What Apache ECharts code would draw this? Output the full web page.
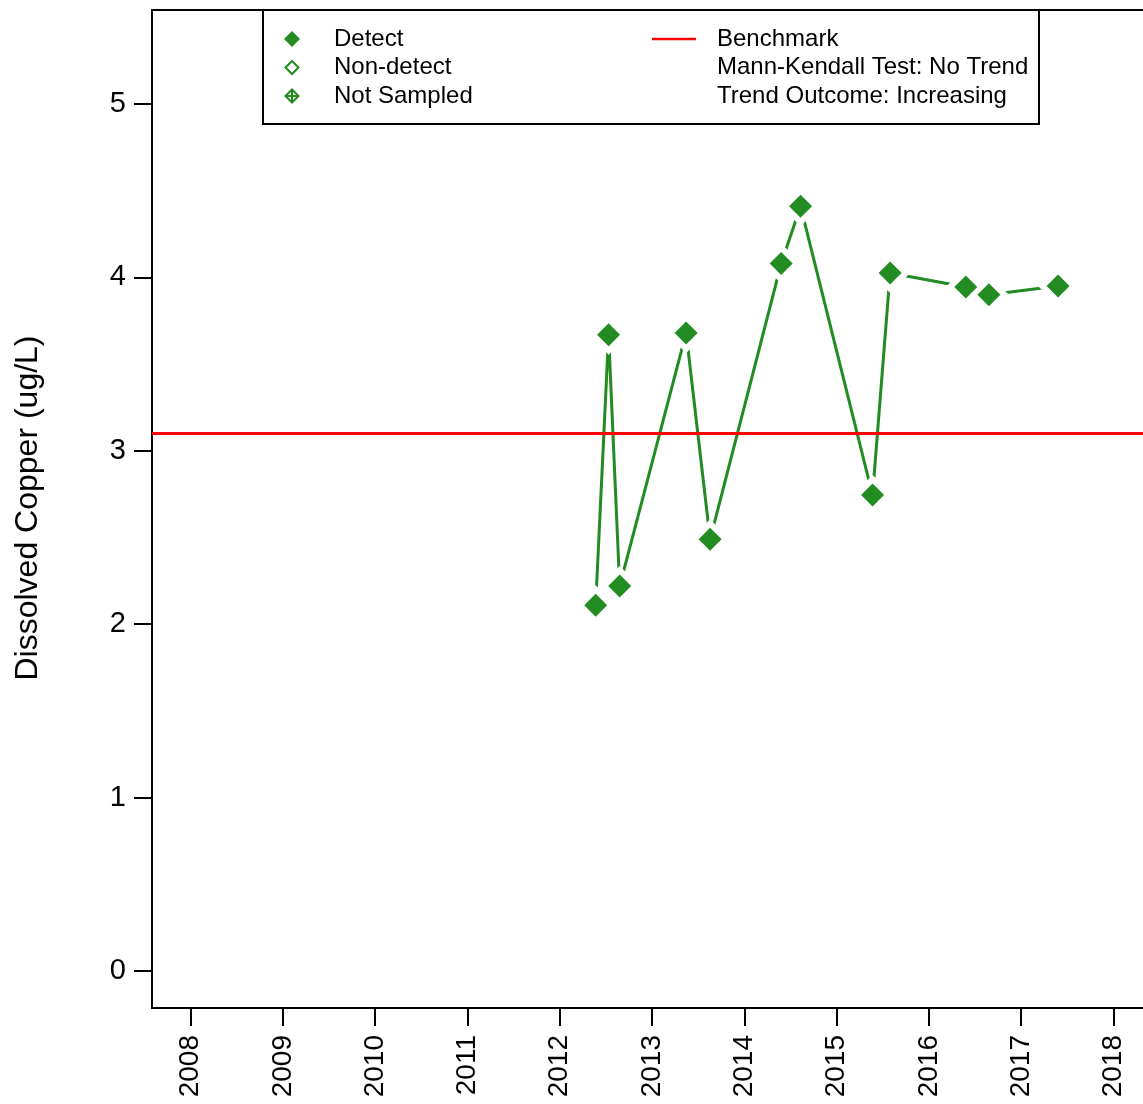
<!DOCTYPE html>
<html>
<head>
<meta charset="utf-8">
<script src="https://cdn.jsdelivr.net/npm/echarts@6/dist/echarts.min.js"></script>
<style>
html,body{margin:0;padding:0;background:#fff;}
#chart{width:1143px;height:1104px;}
</style>
</head>
<body>
<div id="chart"></div>
<script>
// ---- data ----
const yearTicks = [2008, 2009, 2010, 2011, 2012, 2013, 2014, 2015, 2016, 2017, 2018];
const yTicks = [0, 1, 2, 3, 4, 5];
const sampleDates = [2012.39, 2012.53, 2012.65, 2013.37, 2013.63, 2014.40, 2014.61, 2015.39, 2015.58, 2016.40, 2016.65, 2017.40];
const copper = [2.11, 3.67, 2.22, 3.68, 2.49, 4.08, 4.41, 2.745, 4.025, 3.945, 3.90, 3.95];
const benchmark = 3.10;
const legendLeft = ['Detect', 'Non-detect', 'Not Sampled'];
const legendRight = ['Benchmark', 'Mann-Kendall Test: No Trend', 'Trend Outcome: Increasing'];
const yTitle = 'Dissolved Copper (ug/L)';

const GREEN = '#228B22';
const FONT = 'Liberation Sans, Arial, sans-serif';
const xMin = 2007.583, xMax = 2018.32;
const yMin = -0.213, yMax = 5.542;

const pts = sampleDates.map((d, i) => [d, copper[i]]);

const chart = echarts.init(document.getElementById('chart'));

// legend graphics
const g = [];
g.push({type: 'rect', shape: {x: 263, y: 10, width: 776, height: 114},
  style: {fill: '#fff', stroke: '#000', lineWidth: 2}, z: 100});
const rowY = [39, 67.5, 96];
function diamond(cx, cy, r) {
  return [[cx, cy - r], [cx + r, cy], [cx, cy + r], [cx - r, cy]];
}
g.push({type: 'polygon', shape: {points: diamond(292, rowY[0], 8)}, style: {fill: GREEN}, z: 101});
g.push({type: 'polygon', shape: {points: diamond(292, rowY[1], 6.5)}, style: {fill: 'none', stroke: GREEN, lineWidth: 2}, z: 101});
g.push({type: 'polygon', shape: {points: diamond(292, rowY[2], 6.5)}, style: {fill: 'none', stroke: GREEN, lineWidth: 2}, z: 101});
g.push({type: 'line', shape: {x1: 285.5, y1: rowY[2], x2: 298.5, y2: rowY[2]}, style: {stroke: GREEN, lineWidth: 2}, z: 101});
g.push({type: 'line', shape: {x1: 292, y1: rowY[2] - 6.5, x2: 292, y2: rowY[2] + 6.5}, style: {stroke: GREEN, lineWidth: 2}, z: 101});
legendLeft.forEach((t, i) => g.push({type: 'text', x: 334, y: rowY[i],
  style: {text: t, font: '24px ' + FONT, fill: '#000', textVerticalAlign: 'middle', verticalAlign: 'middle'}, z: 101}));
g.push({type: 'line', shape: {x1: 652, y1: rowY[0], x2: 696, y2: rowY[0]}, style: {stroke: '#ff0000', lineWidth: 2.5}, z: 101});
legendRight.forEach((t, i) => g.push({type: 'text', x: 717, y: rowY[i],
  style: {text: t, font: '24px ' + FONT, fill: '#000', textVerticalAlign: 'middle', verticalAlign: 'middle'}, z: 101}));
g.push({type: 'text', x: 28, y: 508, rotation: Math.PI / 2,
  style: {text: yTitle, font: '32px ' + FONT, fill: '#000', align: 'center', verticalAlign: 'middle', textAlign: 'center', textVerticalAlign: 'middle'}, z: 101});

const option = {
  animation: false,
  backgroundColor: '#fff',
  grid: {left: 152, top: 10, right: 0, bottom: 96, containLabel: false},
  xAxis: [{
    type: 'value', min: xMin, max: xMax, position: 'bottom',
    splitLine: {show: false},
    axisLine: {show: true, onZero: false, lineStyle: {color: '#000', width: 2}},
    axisTick: {show: true, length: 18, lineStyle: {color: '#000', width: 2}, customValues: yearTicks},
    axisLabel: {show: true, rotate: 90, margin: 27, fontSize: 28, fontFamily: FONT, color: '#000',
      customValues: yearTicks, formatter: v => String(Math.round(v))}
  }, {
    type: 'value', min: xMin, max: xMax, position: 'top',
    splitLine: {show: false},
    axisLine: {show: true, onZero: false, lineStyle: {color: '#000', width: 2}},
    axisTick: {show: false}, axisLabel: {show: false}
  }],
  yAxis: {
    type: 'value', min: yMin, max: yMax,
    splitLine: {show: false},
    axisLine: {show: true, onZero: false, lineStyle: {color: '#000', width: 2}},
    axisTick: {show: true, length: 18, lineStyle: {color: '#000', width: 2}, customValues: yTicks},
    axisLabel: {show: true, margin: 26, fontSize: 29, fontFamily: FONT, color: '#000',
      customValues: yTicks, formatter: v => String(Math.round(v))}
  },
  series: [{
    type: 'line', data: pts, showSymbol: false, symbol: 'none',
    lineStyle: {color: GREEN, width: 3}, z: 2, silent: true
  }, {
    type: 'scatter', data: pts, symbol: 'diamond', symbolSize: 40,
    itemStyle: {color: '#fff', opacity: 1}, z: 3, silent: true
  }, {
    type: 'line', data: [], z: 4, silent: true,
    markLine: {silent: true, symbol: ['none', 'none'], label: {show: false},
      lineStyle: {color: '#ff0000', width: 3, type: 'solid'},
      data: [{yAxis: benchmark}]}
  }, {
    type: 'scatter', data: pts, symbol: 'diamond', symbolSize: 23,
    itemStyle: {color: GREEN, opacity: 1}, z: 5, silent: true
  }],
  graphic: g
};
chart.setOption(option);
</script>
</body>
</html>
